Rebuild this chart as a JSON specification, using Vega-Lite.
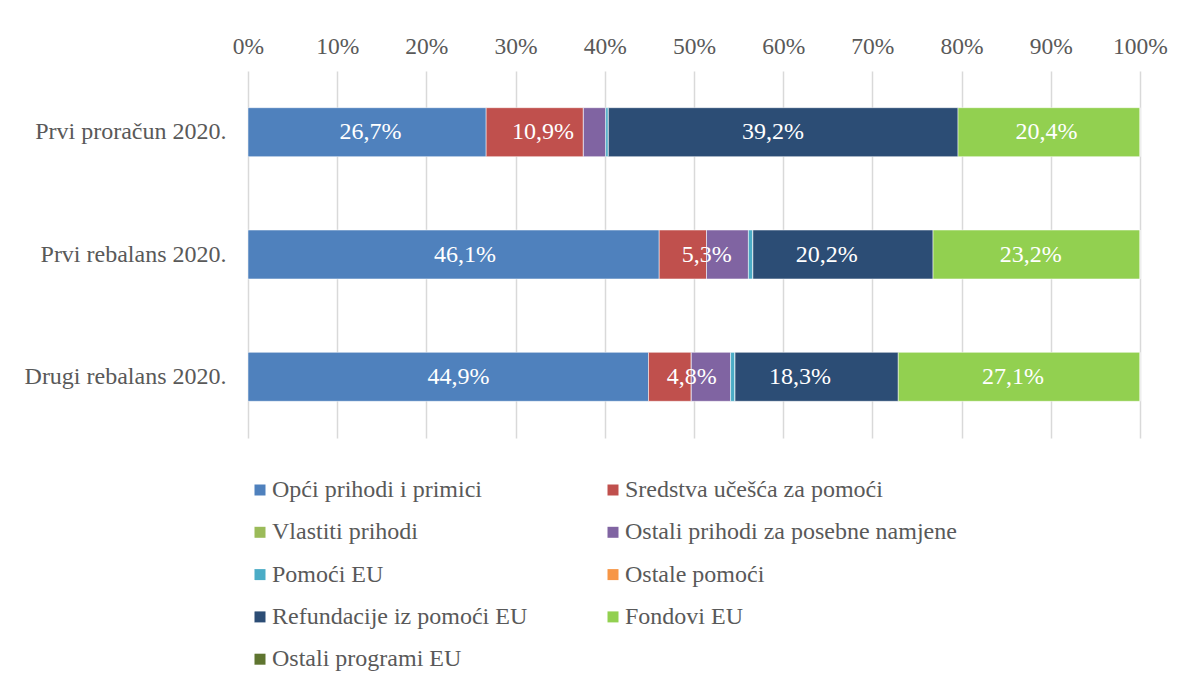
{
  "$schema": "https://vega.github.io/schema/vega-lite/v6.json",
  "width": 892,
  "height": 367,
  "autosize": "none",
  "padding": {"left": 248, "top": 71, "right": 45, "bottom": 246},
  "background": "white",
  "config": {
    "locale": {"number": {"decimal": ",", "thousands": ".", "grouping": [3], "currency": ["", " €"]}},
    "view": {"stroke": null},
    "font": "Liberation Serif, Times New Roman, serif"
  },
  "data": {
    "values": [
      {"cat": "Prvi proračun 2020.", "series": "Opći prihodi i primici", "o": 1, "v": 0.267},
      {"cat": "Prvi proračun 2020.", "series": "Sredstva učešća za pomoći", "o": 2, "v": 0.109},
      {"cat": "Prvi proračun 2020.", "series": "Vlastiti prihodi", "o": 3, "v": 0.0},
      {"cat": "Prvi proračun 2020.", "series": "Ostali prihodi za posebne namjene", "o": 4, "v": 0.025},
      {"cat": "Prvi proračun 2020.", "series": "Pomoći EU", "o": 5, "v": 0.003},
      {"cat": "Prvi proračun 2020.", "series": "Ostale pomoći", "o": 6, "v": 0.0},
      {"cat": "Prvi proračun 2020.", "series": "Refundacije iz pomoći EU", "o": 7, "v": 0.392},
      {"cat": "Prvi proračun 2020.", "series": "Fondovi EU", "o": 8, "v": 0.204},
      {"cat": "Prvi proračun 2020.", "series": "Ostali programi EU", "o": 9, "v": 0.0},
      {"cat": "Prvi rebalans 2020.", "series": "Opći prihodi i primici", "o": 1, "v": 0.461},
      {"cat": "Prvi rebalans 2020.", "series": "Sredstva učešća za pomoći", "o": 2, "v": 0.053},
      {"cat": "Prvi rebalans 2020.", "series": "Vlastiti prihodi", "o": 3, "v": 0.0},
      {"cat": "Prvi rebalans 2020.", "series": "Ostali prihodi za posebne namjene", "o": 4, "v": 0.047},
      {"cat": "Prvi rebalans 2020.", "series": "Pomoći EU", "o": 5, "v": 0.005},
      {"cat": "Prvi rebalans 2020.", "series": "Ostale pomoći", "o": 6, "v": 0.0},
      {"cat": "Prvi rebalans 2020.", "series": "Refundacije iz pomoći EU", "o": 7, "v": 0.202},
      {"cat": "Prvi rebalans 2020.", "series": "Fondovi EU", "o": 8, "v": 0.232},
      {"cat": "Prvi rebalans 2020.", "series": "Ostali programi EU", "o": 9, "v": 0.0},
      {"cat": "Drugi rebalans 2020.", "series": "Opći prihodi i primici", "o": 1, "v": 0.449},
      {"cat": "Drugi rebalans 2020.", "series": "Sredstva učešća za pomoći", "o": 2, "v": 0.048},
      {"cat": "Drugi rebalans 2020.", "series": "Vlastiti prihodi", "o": 3, "v": 0.0},
      {"cat": "Drugi rebalans 2020.", "series": "Ostali prihodi za posebne namjene", "o": 4, "v": 0.044},
      {"cat": "Drugi rebalans 2020.", "series": "Pomoći EU", "o": 5, "v": 0.005},
      {"cat": "Drugi rebalans 2020.", "series": "Ostale pomoći", "o": 6, "v": 0.0},
      {"cat": "Drugi rebalans 2020.", "series": "Refundacije iz pomoći EU", "o": 7, "v": 0.183},
      {"cat": "Drugi rebalans 2020.", "series": "Fondovi EU", "o": 8, "v": 0.271},
      {"cat": "Drugi rebalans 2020.", "series": "Ostali programi EU", "o": 9, "v": 0.0}
    ]
  },
  "encoding": {
    "y": {
      "field": "cat", "type": "nominal",
      "sort": ["Prvi proračun 2020.", "Prvi rebalans 2020.", "Drugi rebalans 2020."],
      "scale": {"paddingInner": 0.6, "paddingOuter": 0.3},
      "axis": {"title": null, "domain": false, "ticks": false, "labelFontSize": 24, "labelColor": "#595959", "labelPadding": 22, "labelLimit": 400, "labelFont": "Liberation Serif, Times New Roman, serif"}
    },
    "x": {
      "field": "v", "type": "quantitative", "stack": "normalize",
      "scale": {"domain": [0, 1]},
      "axis": {"orient": "top", "title": null, "format": ".0%", "values": [0,0.1,0.2,0.3,0.4,0.5,0.6,0.7,0.8,0.9,1], "labelOverlap": false, "domain": false, "ticks": false, "grid": true, "gridColor": "#D9D9D9", "gridWidth": 1.5, "labelFontSize": 23.5, "labelColor": "#595959", "labelPadding": 13, "labelFont": "Liberation Serif, Times New Roman, serif", "labelFlush": false}
    },
    "order": {"field": "o", "type": "quantitative"}
  },
  "layer": [
    {
      "mark": {"type": "bar", "stroke": "white", "strokeWidth": 0.5},
      "encoding": {
        "color": {
          "field": "series", "type": "nominal",
          "scale": {
            "domain": ["Opći prihodi i primici", "Vlastiti prihodi", "Pomoći EU", "Refundacije iz pomoći EU", "Ostali programi EU", "Sredstva učešća za pomoći", "Ostali prihodi za posebne namjene", "Ostale pomoći", "Fondovi EU"],
            "range": ["#4F81BD", "#9BBB59", "#4BACC6", "#2C4D75", "#5F7530", "#C0504D", "#8064A2", "#F79646", "#92D050"]
          },
          "legend": {
            "title": null, "orient": "none", "legendX": 0, "legendY": 407, "columns": 2, "columnPadding": 73, "rowPadding": 18.3,
            "symbolType": "square", "symbolSize": 121, "symbolStrokeWidth": 0, "symbolOffset": 0,
            "labelFontSize": 24, "labelColor": "#595959", "labelFont": "Liberation Serif, Times New Roman, serif", "labelOffset": 0, "labelLimit": 400, "gridAlign": "each"
          }
        }
      }
    },
    {
      "transform": [{"filter": {"field": "series", "oneOf": ["Opći prihodi i primici", "Sredstva učešća za pomoći", "Refundacije iz pomoći EU", "Fondovi EU"]}}],
      "mark": {"type": "text", "color": "white", "fontSize": 24, "font": "Liberation Serif, Times New Roman, serif"},
      "encoding": {
        "x": {"field": "v", "type": "quantitative", "stack": "normalize", "bandPosition": 0.5},
        "text": {"field": "v", "type": "quantitative", "format": ".1%"}
      }
    }
  ]
}
